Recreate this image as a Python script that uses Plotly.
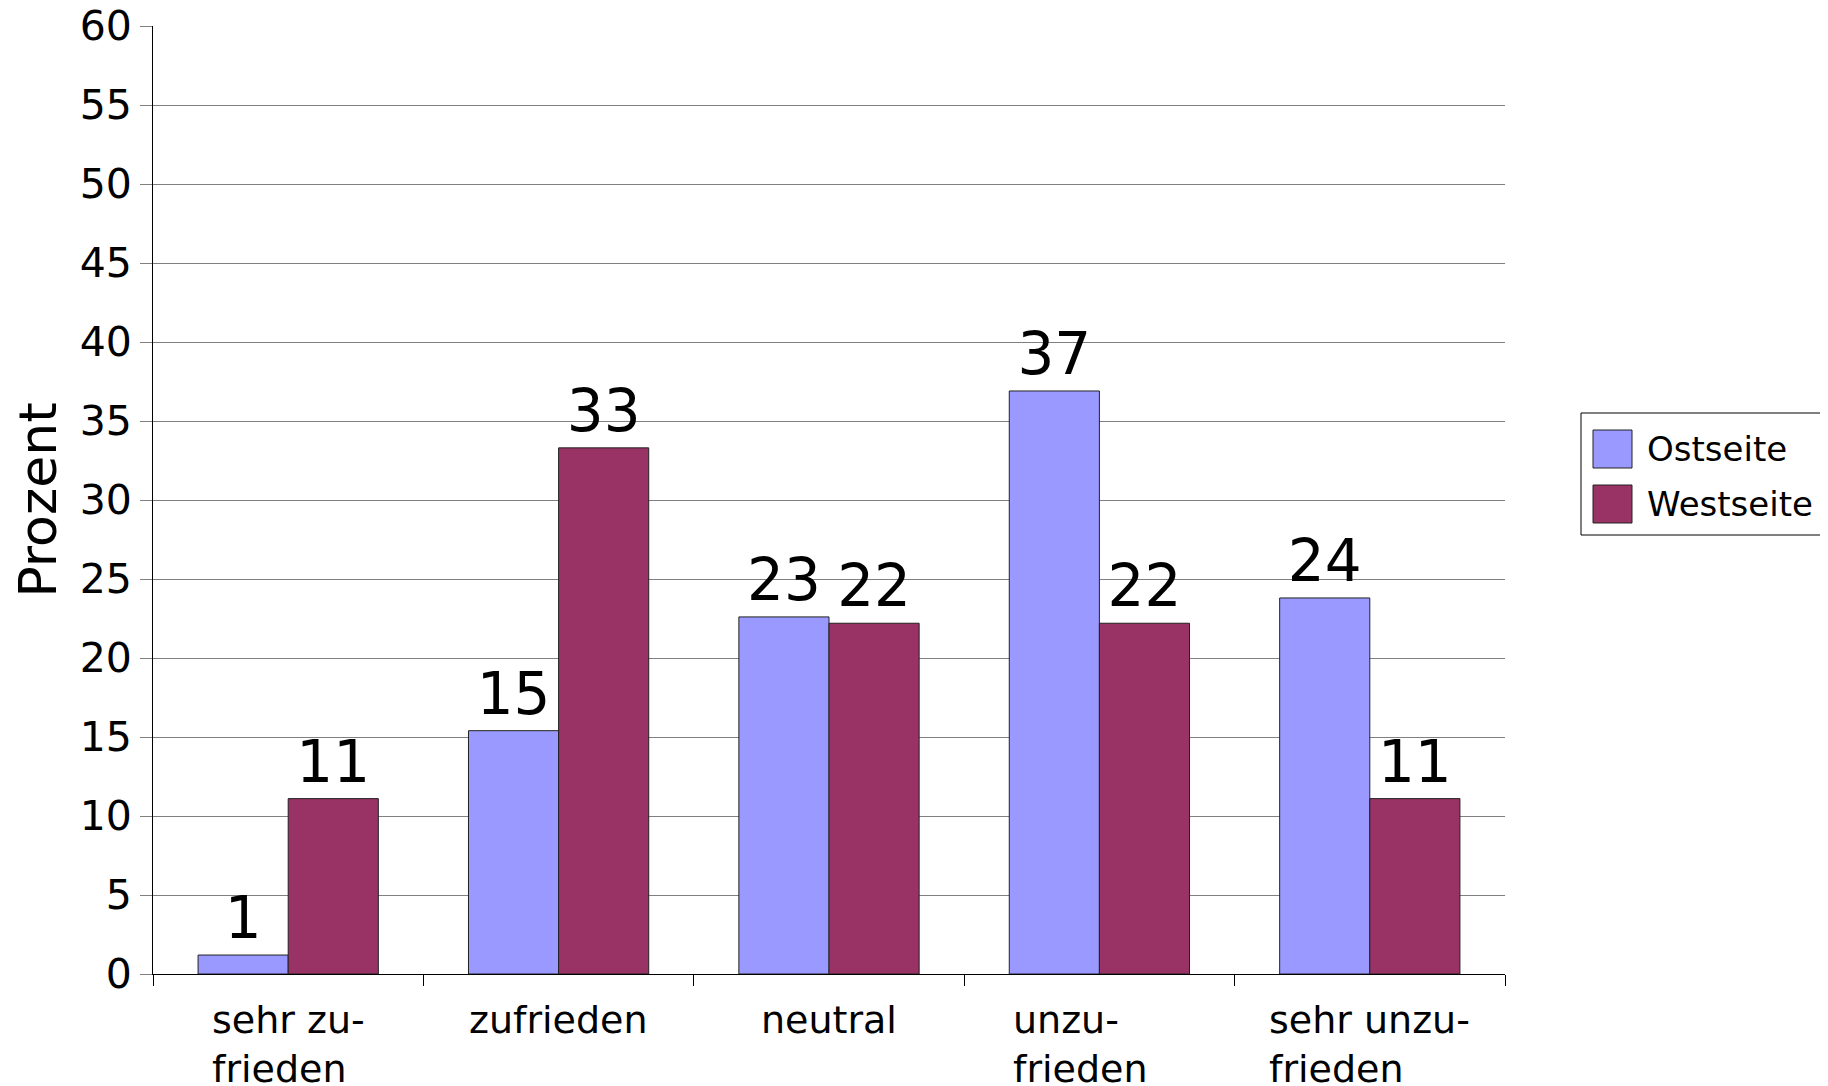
import plotly.graph_objects as go

# Zufriedenheit, Ost- vs. Westseite (Prozent)
categories = ["sehr zufrieden", "zufrieden", "neutral", "unzufrieden", "sehr unzufrieden"]
tick_labels = ["sehr zu-<br>frieden", "zufrieden", "neutral", "unzu-<br>frieden", "sehr unzu-<br>frieden"]
ost_values = [1.2, 15.4, 22.6, 36.9, 23.8]
west_values = [11.1, 33.3, 22.2, 22.2, 11.1]
series_names = ["Ostseite", "Westseite"]
series_colors = ["#9999FF", "#993366"]
y_ticks = list(range(0, 65, 5))

FONT = "DejaVu Sans"
OFF = 8  # page margin of the html body
W, H = 1828 - OFF, 1086 - OFF
L, R, T, B = 153 - OFF, 323, 26 - OFF, 112

# helpers: window pixel -> paper fraction
def px_x(x):
	return (x - OFF - L) / (W - L - R)

def px_y(y):
	return (H - B - (y - OFF)) / (H - T - B)

fig = go.Figure()
for name, vals, col in zip(series_names, [ost_values, west_values], series_colors):
	fig.add_bar(
		x = categories,
		y = vals,
		name = name,
		marker = dict(color = col, line = dict(color = "#222222", width = 1)),
		texttemplate = "%{y:.0f}",
		textposition = "outside",
		textfont = dict(family = FONT, size = 58, color = "black"),
		constraintext = "none",
		cliponaxis = False,
	)

# category labels, left aligned like the original (the "unzu-" block sits a bit left there)
label_nudge = {"unzufrieden": -19}
for cat, lab in zip(categories, tick_labels):
	fig.add_annotation(
		x = cat, y = 0, xref = "x", yref = "paper",
		text = lab, showarrow = False, align = "left",
		xanchor = "center", yanchor = "top", yshift = -22, xshift = label_nudge.get(cat, 0),
		font = dict(family = FONT, size = 38, color = "black"),
	)

# legend drawn by hand so the swatches get the original size
fig.add_shape(type = "rect", xref = "paper", yref = "paper",
	x0 = px_x(1581), x1 = px_x(1824), y0 = px_y(535), y1 = px_y(413),
	line = dict(color = "black", width = 1), fillcolor = "white")
for i, (name, col) in enumerate(zip(series_names, series_colors)):
	top = 430 + i * 55
	fig.add_shape(type = "rect", xref = "paper", yref = "paper",
		x0 = px_x(1593), x1 = px_x(1632), y0 = px_y(top + 38), y1 = px_y(top),
		line = dict(color = "#222222", width = 1), fillcolor = col)
	fig.add_annotation(x = px_x(1645), y = px_y(top + 19), xref = "paper", yref = "paper",
		text = name, showarrow = False, xanchor = "left", yanchor = "middle",
		font = dict(family = FONT, size = 34, color = "black"))

fig.update_layout(
	width = W, height = H,
	margin = dict(l = L, r = R, t = T, b = B),
	plot_bgcolor = "white", paper_bgcolor = "white",
	barmode = "group", bargap = 1/3, bargroupgap = 0,
	showlegend = False,
	font = dict(family = FONT, color = "black"),
)
fig.update_xaxes(
	type = "category", showgrid = False, showticklabels = False, automargin = False,
	showline = True, linecolor = "black", linewidth = 1,
	ticks = "outside", tickson = "boundaries", ticklen = 11, tickcolor = "black",
)
fig.update_yaxes(
	range = [0, 60], tickvals = y_ticks, showgrid = True, gridcolor = "#808080", gridwidth = 1,
	zeroline = False, showline = True, linecolor = "black", linewidth = 1,
	ticks = "outside", ticklen = 12, tickcolor = "#808080", automargin = False,
	tickfont = dict(family = FONT, size = 41, color = "black"),
	ticklabeloverflow = "allow",
	title = dict(text = "Prozent", font = dict(family = FONT, size = 52, color = "black"), standoff = 8),
)

fig.write_html("out.html")
